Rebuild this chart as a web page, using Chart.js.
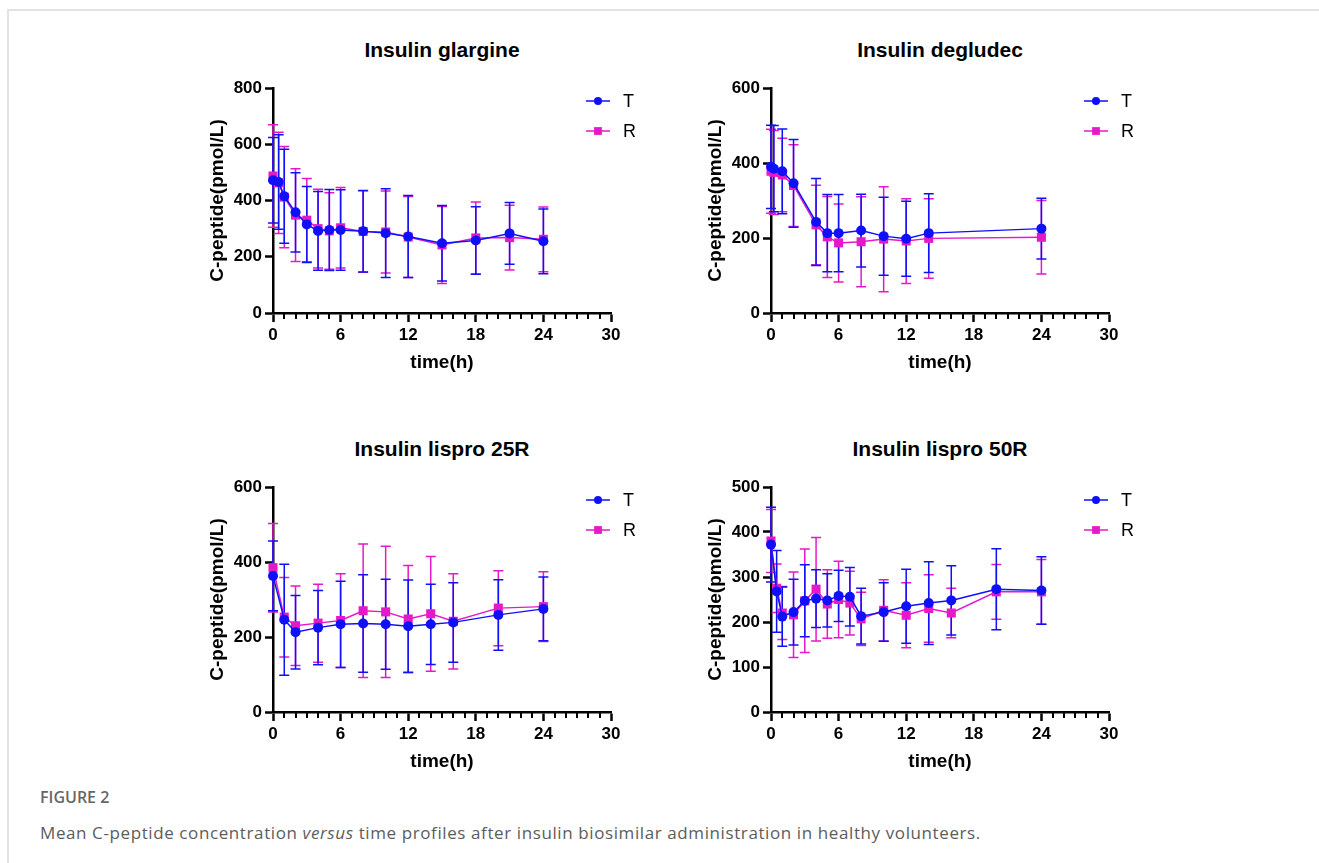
<!DOCTYPE html>
<html>
<head>
<meta charset="utf-8">
<script src="https://cdn.jsdelivr.net/npm/chart.js@4.4.1/dist/chart.umd.min.js"></script>
<style>
  body { margin: 0; background: #fff; width: 1319px; height: 863px; position: relative; overflow: hidden; }
  #frame { position: absolute; left: 7px; top: 9px; right: 0; bottom: -10px; border-top: 2px solid #e2e2e2; border-left: 2px solid #e2e2e2; }
  .panel { position: absolute; width: 470px; height: 320px; }
  .ptitle { position: absolute; width: 400px; text-align: center; font: bold 21px "Liberation Sans", Arial, sans-serif; line-height: 24px; color: #000; }
  .fig { position: absolute; left: 40px; font-family: "Open Sans", "Noto Sans", sans-serif; color: #5c5c5c; font-size: 16px; white-space: nowrap; }
</style>
</head>
<body>
<div id="frame"></div>

<div class="ptitle" id="t0" style="left:242px; top:38px;"></div>
<div class="ptitle" id="t1" style="left:740px; top:38px;"></div>
<div class="ptitle" id="t2" style="left:242px; top:437px;"></div>
<div class="ptitle" id="t3" style="left:740px; top:437px;"></div>

<div class="panel" style="left:190px; top:70px;"><canvas id="c0" width="470" height="320"></canvas></div>
<div class="panel" style="left:688px; top:70px;"><canvas id="c1" width="470" height="320"></canvas></div>
<div class="panel" style="left:190px; top:469px;"><canvas id="c2" width="470" height="320"></canvas></div>
<div class="panel" style="left:688px; top:469px;"><canvas id="c3" width="470" height="320"></canvas></div>

<div class="fig" style="top:786px; font-weight:600; color:#666;">FIGURE 2</div>
<div class="fig" style="top:821px; font-size:17px; letter-spacing:0.6px;">Mean C-peptide concentration <i>versus</i> time profiles after insulin biosimilar administration in healthy volunteers.</div>

<script>
// panel titles, legend, axes
var panelTitles = ['Insulin glargine', 'Insulin degludec', 'Insulin lispro 25R', 'Insulin lispro 50R'];
var seriesLabels = ['T', 'R'];
var yTitle = 'C-peptide(pmol/L)';
var xTitle = 'time(h)';
var yMax = [800, 600, 600, 500];
var yStep = [200, 200, 200, 100];
var xMax = 30;
var xStep = 6;

// insulin glargine
var glargineTime  = [0, 0.5, 1, 2, 3, 4, 5, 6, 8, 10, 12, 15, 18, 21, 24];
var glargineTMean = [472, 466, 415, 358, 315, 292, 295, 295, 291, 284, 272, 248, 258, 283, 255];
var glargineTSd   = [152, 168, 167, 141, 135, 140, 144, 143, 145, 158, 146, 134, 120, 110, 115];
var glargineRMean = [487, 463, 412, 348, 330, 300, 292, 303, 290, 288, 270, 242, 267, 268, 262];
var glargineRSd   = [182, 180, 180, 165, 148, 140, 136, 143, 145, 146, 144, 137, 128, 115, 115];

// insulin degludec
var degludecTime  = [0, 0.25, 1, 2, 4, 5, 6, 8, 10, 12, 14, 24];
var degludecTMean = [390, 385, 378, 346, 243, 213, 213, 220, 205, 198, 213, 225];
var degludecTSd   = [111, 115, 113, 117, 116, 103, 103, 97, 104, 100, 105, 81];
var degludecRMean = [378, 375, 368, 340, 235, 203, 187, 190, 197, 192, 199, 202];
var degludecRSd   = [112, 112, 98, 109, 106, 108, 104, 120, 140, 113, 106, 98];

// insulin lispro 25R
var lispro25Time  = [0, 1, 2, 4, 6, 8, 10, 12, 14, 16, 20, 24];
var lispro25TMean = [363, 246, 213, 225, 234, 236, 234, 229, 234, 239, 259, 275];
var lispro25TSd   = [93, 148, 98, 99, 115, 130, 120, 123, 107, 106, 94, 85];
var lispro25RMean = [385, 253, 230, 237, 244, 270, 267, 248, 262, 242, 277, 281];
var lispro25RSd   = [118, 106, 106, 104, 125, 178, 175, 143, 153, 127, 100, 93];

// insulin lispro 50R
var lispro50Time  = [0, 0.5, 1, 2, 3, 4, 5, 6, 7, 8, 10, 12, 14, 16, 20, 24];
var lispro50TMean = [372, 268, 212, 222, 247, 252, 248, 258, 256, 213, 222, 235, 242, 248, 273, 270];
var lispro50TSd   = [83, 91, 66, 73, 80, 64, 59, 57, 65, 62, 65, 82, 92, 77, 90, 75];
var lispro50RMean = [380, 275, 220, 216, 247, 273, 240, 250, 242, 207, 226, 215, 230, 220, 267, 267];
var lispro50RSd   = [70, 54, 59, 95, 115, 115, 76, 85, 71, 59, 68, 72, 75, 55, 61, 72];

var tColor = '#1010f8';
var rColor = '#e619c8';
var fontFamily = '"Liberation Sans", Arial, sans-serif';

function toPoints(times, values) {
  return times.map(function (t, i) { return { x: t, y: values[i] }; });
}

// mean +/- SD bars, drawn under the markers
var errorBars = {
  id: 'errorBars',
  beforeDatasetsDraw: function (chart) {
    var ctx = chart.ctx, xs = chart.scales.x, ys = chart.scales.y;
    for (var i = chart.data.datasets.length - 1; i >= 0; i--) {
      var ds = chart.data.datasets[i];
      ctx.save();
      ctx.strokeStyle = ds.borderColor;
      ctx.lineWidth = 1.5;
      ds.data.forEach(function (p, j) {
        var px = xs.getPixelForValue(p.x);
        var top = ys.getPixelForValue(p.y + ds.sd[j]);
        var bot = ys.getPixelForValue(p.y - ds.sd[j]);
        ctx.beginPath();
        ctx.moveTo(px, top); ctx.lineTo(px, bot);
        ctx.moveTo(px - 5, top); ctx.lineTo(px + 5, top);
        ctx.moveTo(px - 5, bot); ctx.lineTo(px + 5, bot);
        ctx.stroke();
      });
      ctx.restore();
    }
  }
};

// minor x ticks every hour + line/marker legend in the top right
var extras = {
  id: 'extras',
  afterDraw: function (chart) {
    var ctx = chart.ctx, xs = chart.scales.x, area = chart.chartArea;
    ctx.save();
    ctx.strokeStyle = '#000';
    ctx.lineWidth = 2;
    for (var v = 1; v < xMax; v++) {
      if (v % xStep === 0) continue;
      var px = Math.round(xs.getPixelForValue(v));
      ctx.beginPath();
      ctx.moveTo(px, area.bottom);
      ctx.lineTo(px, area.bottom + 6);
      ctx.stroke();
    }
    chart.data.datasets.forEach(function (ds, i) {
      var ly = area.top + 13 + i * 30;
      var lx = area.left + 313;
      ctx.strokeStyle = ds.borderColor;
      ctx.lineWidth = 1.5;
      ctx.beginPath();
      ctx.moveTo(lx, ly); ctx.lineTo(lx + 24, ly);
      ctx.stroke();
      ctx.fillStyle = ds.backgroundColor;
      Chart.helpers.drawPoint(ctx, {
        pointStyle: ds.pointStyle, radius: ds.pointStyle === 'rect' ? 5.5 : 4, rotation: 0, borderWidth: 0
      }, lx + 12, ly);
      ctx.fillStyle = '#000';
      ctx.font = '18px ' + fontFamily;
      ctx.textBaseline = 'middle';
      ctx.textAlign = 'left';
      ctx.fillText(ds.label, lx + 37, ly + 1);
    });
    ctx.restore();
  }
};

function makePanel(idx, times, tMean, tSd, rMean, rSd) {
  document.getElementById('t' + idx).textContent = panelTitles[idx];
  var series = [
    { mean: tMean, sd: tSd, color: tColor, style: 'circle', radius: 5 },
    { mean: rMean, sd: rSd, color: rColor, style: 'rect', radius: 6.4 }
  ];
  new Chart(document.getElementById('c' + idx), {
    type: 'line',
    data: {
      datasets: series.map(function (s, i) {
        return {
          label: seriesLabels[i],
          data: toPoints(times, s.mean),
          sd: s.sd,
          borderColor: s.color,
          backgroundColor: s.color,
          borderWidth: 1.5,
          pointStyle: s.style,
          pointRadius: s.radius,
          pointBorderWidth: 0,
          tension: 0,
          clip: false
        };
      })
    },
    options: {
      responsive: false,
      animation: false,
      events: [],
      layout: { padding: { left: 0, right: 49, top: 18, bottom: 0 } },
      plugins: { legend: { display: false }, tooltip: { enabled: false } },
      scales: {
        x: {
          type: 'linear', min: 0, max: xMax,
          afterFit: function (s) { s.height = 77; },
          border: { color: '#000', width: 2.5 },
          grid: { drawOnChartArea: false, color: '#000', tickLength: 9, tickWidth: 2.5 },
          ticks: { stepSize: xStep, color: '#000', padding: 3, maxRotation: 0,
                   font: { family: fontFamily, size: 17, weight: 'bold' } },
          title: { display: true, text: xTitle, color: '#000', padding: { top: 0, bottom: 16 },
                   font: { family: fontFamily, size: 19, weight: 'bold' } }
        },
        y: {
          min: 0, max: yMax[idx],
          afterFit: function (s) { s.width = 83; },
          border: { color: '#000', width: 2.5 },
          grid: { drawOnChartArea: false, color: '#000', tickLength: 8, tickWidth: 2.5 },
          ticks: { stepSize: yStep[idx], color: '#000', padding: 3,
                   font: { family: fontFamily, size: 17, weight: 'bold' } },
          title: { display: true, text: yTitle, color: '#000', padding: { top: 16, bottom: 0 },
                   font: { family: fontFamily, size: 19, weight: 'bold' } }
        }
      }
    },
    plugins: [errorBars, extras]
  });
}

makePanel(0, glargineTime, glargineTMean, glargineTSd, glargineRMean, glargineRSd);
makePanel(1, degludecTime, degludecTMean, degludecTSd, degludecRMean, degludecRSd);
makePanel(2, lispro25Time, lispro25TMean, lispro25TSd, lispro25RMean, lispro25RSd);
makePanel(3, lispro50Time, lispro50TMean, lispro50TSd, lispro50RMean, lispro50RSd);
</script>
</body>
</html>
